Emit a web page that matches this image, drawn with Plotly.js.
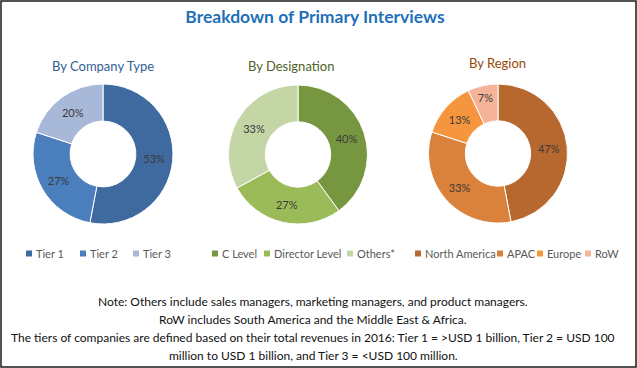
<!DOCTYPE html>
<html><head><meta charset="utf-8">
<script src="https://cdn.plot.ly/plotly-3.0.1.min.js"></script>
<style>html,body{margin:0;padding:0;background:#fff}#chart{width:637px;height:368px}</style>
</head><body><div id="chart"></div>
<script>
// ---- data ----
const companyLabels = ['Tier 1', 'Tier 2', 'Tier 3'];
const companyValues = [53, 27, 20];
const designationLabels = ['C Level', 'Director Level', 'Others*'];
const designationValues = [40, 27, 33];
const regionLabels = ['North America', 'APAC', 'Europe', 'RoW'];
const regionValues = [47, 33, 13, 7];
const chartTitle = 'Breakdown of Primary Interviews';
const subTitles = ['By Company Type', 'By Designation', 'By Region'];
const noteLines = [
  'Note: Others include sales managers, marketing managers, and product managers.',
  'RoW includes South America and the Middle East &amp; Africa.',
  'The tiers of companies are defined based on their total revenues in 2016: Tier 1 = &gt;USD 1 billion, Tier 2 = USD 100',
  'million to USD 1 billion, and Tier 3 = &lt;USD 100 million.'
];

// ---- styles ----
const companyColors = ['#3F6A9F', '#4A7EBD', '#A7B8D8'];
const designationColors = ['#76963F', '#9BBB59', '#C4D6A6'];
const regionColors = ['#B7682F', '#DA823B', '#F5963F', '#F5B49A'];
const FONT = 'Lato, "Open Sans", "DejaVu Sans", sans-serif';
const W = 637, H = 368;
const px = x => x / W;
const py = y => 1 - y / H;

function pie(labels, values, colors, x0, x1, y0, y1) {
  return {
    type: 'pie', labels: labels, values: values, sort: false, direction: 'clockwise',
    rotation: 0, hole: 0.47, marker: {colors: colors, line: {color: '#ffffff', width: 1}},
    textinfo: 'percent', textposition: 'inside', insidetextorientation: 'horizontal',
    textfont: {family: FONT, size: 11, color: '#3a3a3a'},
    domain: {x: [px(x0), px(x1)], y: [py(y1), py(y0)]},
    hoverinfo: 'skip', showlegend: false
  };
}

const data = [
  pie(companyLabels, companyValues, companyColors, 33, 173, 84, 224),
  pie(designationLabels, designationValues, designationColors, 228, 368, 85, 224),
  pie(regionLabels, regionValues, regionColors, 428, 568, 84, 223)
];

const annotations = [];
const shapes = [];

// subtitles
const subX = [103, 291, 497];
const subY = [66, 66, 63];
const subColors = ['#2F5F95', '#4F6228', '#984807'];
subTitles.forEach((t, i) => annotations.push({
  text: t, x: px(subX[i]), y: py(subY[i]), xref: 'paper', yref: 'paper',
  xanchor: 'center', yanchor: 'middle', showarrow: false,
  font: {family: FONT, size: 13, color: subColors[i]}
}));

// legends (manual, compact like the original)
const legendY = 253.5;
function legend(labels, colors, xs) {
  labels.forEach((lab, i) => {
    shapes.push({type: 'rect', xref: 'paper', yref: 'paper',
      x0: px(xs[i]), x1: px(xs[i] + 6), y0: py(legendY + 3), y1: py(legendY - 3),
      fillcolor: colors[i], line: {width: 0}});
    annotations.push({text: lab, x: px(xs[i] + 8), y: py(legendY), xref: 'paper', yref: 'paper',
      xanchor: 'left', yanchor: 'middle', showarrow: false,
      font: {family: FONT, size: 11, color: '#595959'}});
  });
}
legend(companyLabels, companyColors, [26, 80, 133]);
legend(designationLabels, designationColors, [212, 264, 347]);
legend(regionLabels, regionColors, [415, 497, 537, 585]);

// notes
const noteY = [301, 319, 337, 355];
noteLines.forEach((t, i) => annotations.push({
  text: t, x: px(313), y: py(noteY[i]), xref: 'paper', yref: 'paper',
  xanchor: 'center', yanchor: 'middle', showarrow: false,
  font: {family: FONT, size: 12, color: '#111111'}
}));

// border
shapes.push({type: 'rect', xref: 'paper', yref: 'paper',
  x0: px(1), x1: px(636), y0: py(367), y1: py(1),
  line: {color: '#1a1a1a', width: 1.5}, fillcolor: 'rgba(0,0,0,0)'});

const layout = {
  width: W, height: H, margin: {l: 0, r: 0, t: 0, b: 0},
  paper_bgcolor: '#ffffff', plot_bgcolor: '#ffffff',
  title: {text: chartTitle, x: px(315), xref: 'paper', xanchor: 'center',
    y: py(17), yref: 'paper', yanchor: 'middle',
    font: {family: FONT, size: 17.5, weight: 'bold', color: '#1F70B7'}},
  annotations: annotations, shapes: shapes, showlegend: false
};

Plotly.newPlot('chart', data, layout, {displayModeBar: false, staticPlot: true});
</script>
</body></html>
